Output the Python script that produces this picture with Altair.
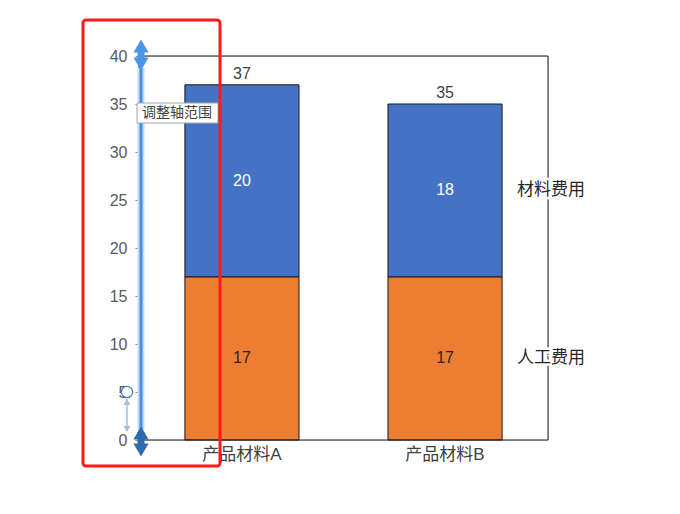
import altair as alt
import pandas as pd

categories = ["产品材料A", "产品材料B"]
series = ["人工费用", "材料费用"]
labor = [17, 17]
material = [20, 18]
y_ticks = [0, 5, 10, 15, 20, 25, 30, 35, 40]

rows = []
for i, c in enumerate(categories):
    base = 0
    for s, vals in zip(series, [labor, material]):
        v = vals[i]
        rows.append({"产品": c, "类型": s, "值": v, "起": base, "止": base + v,
                     "中": base + v / 2})
        base += v
df = pd.DataFrame(rows)
tot = pd.DataFrame({"产品": categories, "合计": [a + b for a, b in zip(labor, material)]})
last = df[df["产品"] == categories[-1]]

FONT = "Liberation Sans, Noto Sans CJK SC"
NUM = 16
CJK = 17
W, H = 409, 384

xenc = alt.X("产品:N", sort=categories, title=None,
             scale=alt.Scale(paddingInner=0.438, paddingOuter=0.226),
             axis=alt.Axis(labelAngle=0, labelFontSize=CJK, labelColor="#404040", labelFont=FONT,
                           ticks=False, domain=False, labelPadding=6))
yscale = alt.Scale(domain=[0, 40], nice=False)

bars = alt.Chart(df).mark_bar(stroke="#1a1a1a", strokeWidth=1).encode(
    x=xenc,
    y=alt.Y("起:Q", scale=yscale, title=None,
            axis=alt.Axis(values=y_ticks, labelFontSize=NUM, labelColor="#595959", labelFont=FONT,
                          tickSize=4, tickColor="#8c8c8c", domain=False, grid=False, labelPadding=8)),
    y2="止:Q",
    color=alt.Color("类型:N", scale=alt.Scale(domain=series, range=["#ED7D31", "#4472C4"]), legend=None),
)

seg = alt.Chart(df).mark_text(fontSize=NUM, font=FONT).encode(
    x=alt.X("产品:N", sort=categories),
    y=alt.Y("中:Q", scale=yscale),
    text="值:Q",
    color=alt.condition(alt.datum["类型"] == "材料费用", alt.value("white"), alt.value("#262626")),
)

tots = alt.Chart(tot).mark_text(fontSize=NUM, font=FONT, baseline="bottom", dy=-3, color="#404040").encode(
    x=alt.X("产品:N", sort=categories),
    y=alt.Y("合计:Q", scale=yscale),
    text="合计:Q",
)

one = pd.DataFrame({"k": [0]})
frame = alt.Chart(one).mark_rect(fill=None, stroke="#1a1a1a", strokeWidth=1).encode(
    x=alt.value(0), x2=alt.value(W), y=alt.value(0), y2=alt.value(H))

lab_halo = alt.Chart(last).mark_text(fontSize=CJK, font=FONT, align="left", dx=72,
                                      stroke="white", strokeWidth=5, color="white").encode(
    x=alt.X("产品:N", sort=categories), y=alt.Y("中:Q", scale=yscale), text="类型:N")
lab = alt.Chart(last).mark_text(fontSize=CJK, font=FONT, align="left", dx=72, color="#262626").encode(
    x=alt.X("产品:N", sort=categories), y=alt.Y("中:Q", scale=yscale), text="类型:N")

# UI overlay (axis-range slider + highlight box)
slider_glow = alt.Chart(one).mark_rule(color="#C5DDF8", strokeWidth=7).encode(
    x=alt.value(2), y=alt.value(12), y2=alt.value(374))
slider = alt.Chart(one).mark_rule(color="#4A90E2", strokeWidth=3).encode(
    x=alt.value(2), y=alt.value(12), y2=alt.value(374))
top_stem = alt.Chart(one).mark_rule(color="#4A95E8", strokeWidth=7).encode(
    x=alt.value(2), y=alt.value(-10), y2=alt.value(8))
top_up = alt.Chart(one).mark_point(shape="triangle-up", filled=True, size=230, color="#4A95E8", opacity=1).encode(
    x=alt.value(2), y=alt.value(-10))
top_dn = alt.Chart(one).mark_point(shape="triangle-down", filled=True, size=230, color="#4A95E8", opacity=1).encode(
    x=alt.value(2), y=alt.value(8))
bot_stem = alt.Chart(one).mark_rule(color="#2E6AB0", strokeWidth=7).encode(
    x=alt.value(2), y=alt.value(376), y2=alt.value(394))
bot_up = alt.Chart(one).mark_point(shape="triangle-up", filled=True, size=230, color="#2E6AB0", opacity=1).encode(
    x=alt.value(2), y=alt.value(377))
bot_dn = alt.Chart(one).mark_point(shape="triangle-down", filled=True, size=230, color="#2E6AB0", opacity=1).encode(
    x=alt.value(2), y=alt.value(394))
small_arrow = alt.Chart(one).mark_rule(color="#A8BEE0", strokeWidth=1.5).encode(
    x=alt.value(-12), y=alt.value(343), y2=alt.value(375))
small_up = alt.Chart(one).mark_point(shape="triangle-up", filled=True, size=50, color="#A8BEE0", opacity=1).encode(
    x=alt.value(-12), y=alt.value(346))
small_dn = alt.Chart(one).mark_point(shape="triangle-down", filled=True, size=50, color="#A8BEE0", opacity=1).encode(
    x=alt.value(-12), y=alt.value(373))
knob = alt.Chart(one).mark_point(shape="circle", filled=True, size=130, fill="white", stroke="#4A80C8",
                                  strokeWidth=1.2, opacity=1).encode(x=alt.value(-12), y=alt.value(336))
tip_box = alt.Chart(one).mark_rect(fill="white", stroke="#A6A6A6", strokeWidth=1).encode(
    x=alt.value(-2), x2=alt.value(79), y=alt.value(47), y2=alt.value(67))
tip_txt = alt.Chart(one).mark_text(text="调整轴范围", fontSize=14, font=FONT, align="left",
                                   color="#404040").encode(x=alt.value(3), y=alt.value(57))
red_box = alt.Chart(one).mark_rect(fill=None, stroke="#FF1A1A", strokeWidth=3, cornerRadius=3).encode(
    x=alt.value(-56), x2=alt.value(81), y=alt.value(-36), y2=alt.value(410))

chart = alt.layer(
    bars, seg, tots, frame, lab_halo, lab,
    slider_glow, slider, top_stem, top_up, top_dn, bot_stem, bot_up, bot_dn,
    small_arrow, small_up, small_dn, knob, tip_box, tip_txt, red_box,
).properties(
    width=W, height=H,
    autosize=alt.AutoSizeParams(type="none"),
    padding={"left": 131, "top": 48, "right": 124, "bottom": 64},
).configure_view(stroke=None).configure(background="white")

chart.save("out.html", embed_options={"renderer": "svg", "actions": False})
